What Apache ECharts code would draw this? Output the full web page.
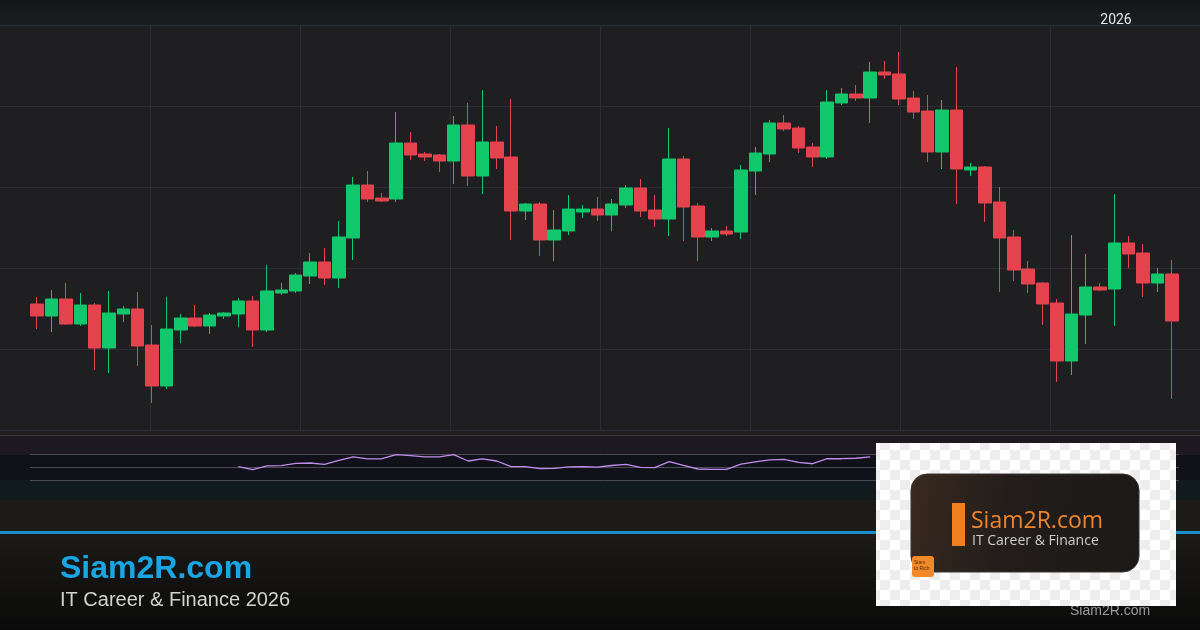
<!DOCTYPE html>
<html><head><meta charset="utf-8">
<script src="https://cdn.jsdelivr.net/npm/echarts@6/dist/echarts.min.js"></script>
<style>html,body{margin:0;padding:0;background:#1f1f21;}#c{width:1200px;height:630px;}</style>
</head><body><div id="c"></div>
<script>
// Candles: [open, close, low, high]
const ohlc = [
 [126,114,101,133],[114,131,98,140],[131,106,105,147],[106,125,104,137],[125,82,60,127],
 [82,117,57,139],[116,121,108,124],[121,84,64,138],[85,44,27,105],[44,101,41,133],
 [100,112,87,116],[112,104,103,125],[104,115,96,117],[114,117,111,118],[116,129,103,132],
 [129,100,83,134],[100,139,98,165],[137,140,135,147],[139,155,137,157],[154,168,146,177],
 [168,152,145,182],[152,193,142,209],[192,245,170,253],[245,231,228,259],[232,229,228,237],
 [231,287,228,318],[287,275,270,298],[276,273,269,278],[275,269,258,276],[269,305,246,314],
 [305,254,244,327],[254,288,236,340],[288,272,261,304],[273,219,190,331],[219,226,210,227],
 [226,190,174,228],[190,200,169,220],[199,221,195,235],[218,221,212,225],[221,215,209,233],
 [215,226,199,231],[225,242,222,245],[242,219,213,251],[220,211,203,235],[211,271,194,302],
 [271,223,189,274],[224,193,169,227],[193,199,189,202],[199,196,194,204],[198,260,191,265],
 [259,277,235,283],[276,307,268,310],[307,301,299,315],[302,282,277,304],[283,273,263,287],
 [273,328,271,340],[327,336,325,342],[336,332,329,345],[332,358,307,368],[358,355,351,369],
 [356,331,325,378],[332,318,311,339],[319,278,268,335],[278,320,261,330],[320,261,226,363],
 [260,263,254,267],[263,227,208,264],[228,192,138,243],[193,160,149,200],[161,146,137,169],
 [147,126,105,148],[127,69,48,131],[69,116,55,195],[115,143,86,176],[143,140,139,147],
 [141,187,104,236],[187,176,162,194],[177,147,133,186],[147,156,138,162],[156,109,31,170]
];
// RSI (period 14) - visible part only
const rsi = [
 null,null,null,null,null,null,null,null,null,null,null,null,null,null,
 51.2,46.6,52.6,52.8,56.3,56.9,54.9,61.1,66.2,63.4,63.5,69.7,68.2,66.2,66.2,69.7,
 60.0,63.4,60.0,51.2,51.2,48.2,48.8,51.1,51.2,50.5,53.1,54.9,50.3,49.7,58.9,53.1,
 47.7,47.2,47.2,55.1,58.5,61.8,62.6,58.0,55.8,63.5,63.5,64.2,66.5
];
const rsiLevels = [70, 50, 30];
const categories = ohlc.map((d, i) => 'D' + (i + 1));

const chart = echarts.init(document.getElementById('c'), null, {renderer: 'canvas'});

const pat = document.createElement('canvas');
pat.width = 20; pat.height = 20;
const pc = pat.getContext('2d');
pc.fillStyle = '#ffffff'; pc.fillRect(0, 0, 20, 20);
pc.fillStyle = '#eeeeee'; pc.fillRect(0, 0, 10, 10); pc.fillRect(10, 10, 10, 10);

const LG = (c1, c2) => new echarts.graphic.LinearGradient(0, 0, 0, 1, [{offset: 0, color: c1}, {offset: 1, color: c2}]);

chart.setOption({
  animation: false,
  backgroundColor: '#1f1f21',
  grid: [
    {left: 0, right: 0, top: 25, height: 405},
    {left: 30, width: 1149, top: 25, height: 405},
    {left: 30, width: 1149, top: 435, height: 65}
  ],
  xAxis: [
    {gridIndex: 0, type: 'value', min: 0, max: 1200, interval: 150,
     axisLine: {show: false}, axisTick: {show: false}, axisLabel: {show: false},
     splitLine: {show: true, showMinLine: false, showMaxLine: false, lineStyle: {color: '#2a2e37', width: 1}}},
    {gridIndex: 1, type: 'category', data: categories, show: false},
    {gridIndex: 2, type: 'category', data: categories, show: false}
  ],
  yAxis: [
    {gridIndex: 0, type: 'value', min: 0, max: 405, interval: 81,
     axisLine: {show: false}, axisTick: {show: false}, axisLabel: {show: false},
     splitLine: {show: true, lineStyle: {color: '#2a2e37', width: 1}}},
    {gridIndex: 1, type: 'value', min: 0, max: 405, show: false, splitLine: {show: false}},
    {gridIndex: 2, type: 'value', min: 0, max: 100, show: false, splitLine: {show: false}}
  ],
  series: [
    {type: 'scatter', xAxisIndex: 0, yAxisIndex: 0, data: [], silent: true},
    {type: 'candlestick', xAxisIndex: 1, yAxisIndex: 1, data: ohlc, barWidth: 13,
     itemStyle: {color: '#10c76b', color0: '#e4434d', borderColor: '#10c76b', borderColor0: '#e4434d', borderWidth: 1}},
    {type: 'line', xAxisIndex: 2, yAxisIndex: 2, data: rsi, showSymbol: false, symbol: 'none',
     connectNulls: false, z: 5,
     lineStyle: {color: '#c18ded', width: 1.3},
     markLine: {silent: true, symbol: ['none', 'none'], label: {show: false},
       lineStyle: {color: '#4a4b52', type: 'solid', width: 1},
       data: rsiLevels.map(v => ({yAxis: v}))}}
  ],
  graphic: {elements: [
    {type: 'rect', z: -10, shape: {x: 0, y: 0, width: 1200, height: 25}, style: {fill: LG('#151618', '#1c1d1f')}},
    {type: 'rect', z: -10, shape: {x: 0, y: 436, width: 1200, height: 19}, style: {fill: '#1e1920'}},
    {type: 'rect', z: -10, shape: {x: 0, y: 455, width: 1200, height: 25}, style: {fill: '#101119'}},
    {type: 'rect', z: -10, shape: {x: 0, y: 480, width: 1200, height: 20}, style: {fill: '#111b1e'}},
    {type: 'rect', z: -10, shape: {x: 0, y: 500, width: 1200, height: 31}, style: {fill: '#1c1b18'}},
    {type: 'line', z: -9, shape: {x1: 0, y1: 435.5, x2: 1200, y2: 435.5}, style: {stroke: '#37373c', lineWidth: 1}},
    {type: 'rect', z: -10, shape: {x: 0, y: 531, width: 1200, height: 3}, style: {fill: '#1b8dc9'}},
    {type: 'rect', z: -10, shape: {x: 0, y: 534, width: 1200, height: 96}, style: {fill: LG('#1b1a17', '#0a0a0a')}},
    {type: 'text', z: 10, x: 1116, y: 20, style: {text: '2026', fill: '#e6e6e6', font: '14px Roboto, "Liberation Sans", sans-serif', textAlign: 'center', textVerticalAlign: 'middle'}},
    {type: 'text', z: 10, x: 60, y: 569, style: {text: 'Siam2R.com', fill: '#18a6e4', font: 'bold 32px "Liberation Sans", Arial, sans-serif', textAlign: 'left', textVerticalAlign: 'middle'}},
    {type: 'text', z: 10, x: 60, y: 600, style: {text: 'IT Career & Finance 2026', fill: '#d2d2d2', font: '20px "Liberation Sans", Arial, sans-serif', textAlign: 'left', textVerticalAlign: 'middle'}},
    {type: 'text', z: 10, x: 1070, y: 611, style: {text: 'Siam2R.com', fill: '#9a9a9a', font: '14px "Liberation Sans", Arial, sans-serif', textAlign: 'left', textVerticalAlign: 'middle'}},
    // logo
    {type: 'rect', z: 100, shape: {x: 876, y: 443, width: 300, height: 163}, style: {fill: {image: pat, repeat: 'repeat'}}},
    {type: 'rect', z: 101, shape: {x: 911, y: 474, width: 228, height: 98, r: 16},
     style: {fill: new echarts.graphic.LinearGradient(0, 0, 1, 0.4, [{offset: 0, color: '#3a2a1f'}, {offset: 0.45, color: '#221d1a'}, {offset: 1, color: '#1c1a19'}]), stroke: '#3a3633', lineWidth: 1}},
    {type: 'rect', z: 102, shape: {x: 952, y: 503, width: 13, height: 43}, style: {fill: '#f07f1f'}},
    {type: 'text', z: 102, x: 971, y: 521, style: {text: 'Siam2R.com', fill: '#f0842a', font: '23px "Open Sans", Lato, sans-serif', textAlign: 'left', textVerticalAlign: 'middle'}},
    {type: 'text', z: 102, x: 972, y: 541, style: {text: 'IT Career & Finance', fill: '#cccccc', font: '14px "Open Sans", Lato, sans-serif', textAlign: 'left', textVerticalAlign: 'middle'}},
    {type: 'rect', z: 102, shape: {x: 912, y: 556, width: 22, height: 21, r: 3}, style: {fill: '#f28a2a'}},
    {type: 'text', z: 103, x: 914, y: 566, style: {text: 'Siam\nto Rich', fill: '#5a2a06', font: '5px "Liberation Sans", sans-serif', textAlign: 'left', textVerticalAlign: 'middle', lineHeight: 6}}
  ]}
});
</script></body></html>
